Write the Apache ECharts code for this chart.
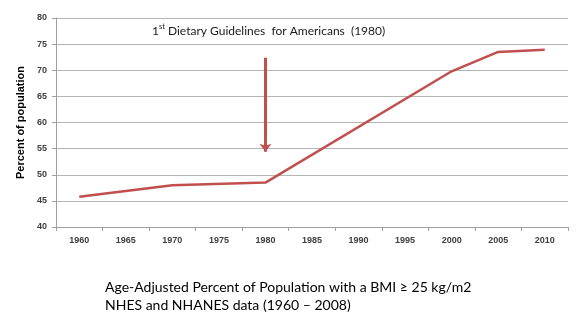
<!DOCTYPE html>
<html>
<head>
<meta charset="utf-8">
<script src="https://cdn.jsdelivr.net/npm/echarts@6/dist/echarts.min.js"></script>
<style>html,body{margin:0;padding:0;background:#fff}#c{width:580px;height:321px}</style>
</head>
<body>
<div id="c"></div>
<script>
var categories = ['1960','1965','1970','1975','1980','1985','1990','1995','2000','2005','2010'];
var values = [45.8, null, 48.0, null, 48.5, null, null, null, 69.8, 73.5, 73.9];
var yTicks = {min: 40, max: 80, interval: 5};
var arrowYear = '1980';
var arrowRange = [72.4, 54.4];
var captionLines = ['Age-Adjusted Percent of Population with a BMI \u2265 25 kg/m2', 'NHES and NHANES data (1960 \u2013 2008)'];

var chart = echarts.init(document.getElementById('c'));
var axisFont = {fontFamily: 'Liberation Sans, Arial', fontSize: 9, fontWeight: 'bold', color: '#404040'};
chart.setOption({
  animation: false,
  grid: {left: 56, right: 12, top: 18, bottom: 94},
  title: {
    text: captionLines.join('\n'),
    left: 100, top: 273,
    textStyle: {fontFamily: 'Lato', fontSize: 14, fontWeight: 'normal', color: '#000', lineHeight: 18}
  },
  xAxis: {
    type: 'category', data: categories, boundaryGap: true,
    axisLine: {lineStyle: {color: '#a0a0a0'}},
    axisTick: {show: true, length: 4, interval: 0, lineStyle: {color: '#a0a0a0'}},
    axisLabel: Object.assign({margin: 9, interval: 0}, axisFont),
    splitLine: {show: false}
  },
  yAxis: {
    type: 'value', min: yTicks.min, max: yTicks.max, interval: yTicks.interval,
    name: 'Percent of population', nameLocation: 'middle', nameGap: 29, nameRotate: 90,
    nameTextStyle: {fontFamily: 'Liberation Sans, Arial', fontSize: 11, fontWeight: 'bold', color: '#000'},
    axisLine: {show: true, lineStyle: {color: '#a0a0a0'}},
    axisTick: {show: true, length: 4, lineStyle: {color: '#a0a0a0'}},
    axisLabel: Object.assign({margin: 9}, axisFont),
    splitLine: {lineStyle: {color: '#b4b4b4', width: 1}}
  },
  series: [{
    type: 'line', data: values, connectNulls: true, symbol: 'none',
    lineStyle: {color: '#c0504d', width: 2.5},
    markLine: {
      silent: true, symbol: ['none', 'arrow'], symbolSize: [9, 8],
      label: {show: false},
      lineStyle: {color: '#c0504d', width: 3, type: 'solid'},
      data: [[{coord: [arrowYear, arrowRange[0]]}, {coord: [arrowYear, arrowRange[1]]}]]
    }
  }],
  graphic: [{
    type: 'text', left: 152, top: 23,
    style: {
      text: '{n|1}{s|st}{n| Dietary Guidelines  for Americans  (1980)}',
      rich: {
        n: {fontFamily: 'Lato', fontSize: 12, fill: '#1a1a1a', verticalAlign: 'bottom'},
        s: {fontFamily: 'Lato', fontSize: 7.5, fill: '#1a1a1a', verticalAlign: 'top', padding: [0, 0, 6, 0]}
      }
    }
  }]
});
</script>
</body>
</html>
